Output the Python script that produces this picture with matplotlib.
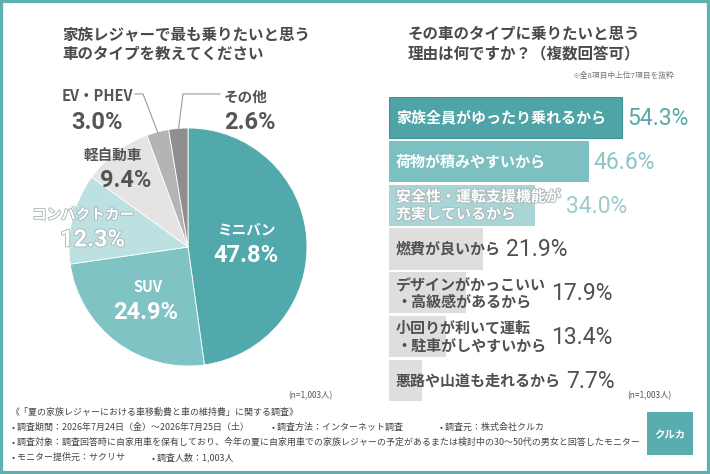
import matplotlib
matplotlib.use('Agg')
import numpy as np
import matplotlib.pyplot as plt
import matplotlib.patheffects as pe
from matplotlib.patches import Rectangle

plt.rcParams['font.family'] = ['Noto Sans CJK JP', 'DejaVu Sans']

# ---------------- data ----------------
car_types = ['ミニバン', 'SUV', 'コンパクトカー', '軽自動車', 'EV・PHEV', 'その他']
car_share = [47.8, 24.9, 12.3, 9.4, 3.0, 2.6]

reasons = ['家族全員がゆったり乗れるから',
           '荷物が積みやすいから',
           '安全性・運転支援機能が\n充実しているから',
           '燃費が良いから',
           'デザインがかっこいい\n・高級感があるから',
           '小回りが利いて運転\n・駐車がしやすいから',
           '悪路や山道も走れるから']
reason_pct = [54.3, 46.6, 34.0, 21.9, 17.9, 13.4, 7.7]

n_note = '(n=1,003人)'

# ---------------- figure ----------------
W, H = 710, 474
fig = plt.figure(figsize=(W / 100, H / 100), dpi=100)
fig.patch.set_facecolor('white')


def px_axes(x0, y0, x1, y1):
    # axes from pixel box (top-left origin)
    return fig.add_axes([x0 / W, 1 - y1 / H, (x1 - x0) / W, (y1 - y0) / H])


def px_text(x, y, s, **kw):
    return fig.text(x / W, 1 - y / H, s, **kw)


DARK = '#4a4a4a'
NUM_FONT = ['Roboto', 'DejaVu Sans']
# white text with a faint grey rim (used where white sits on pale fill)
rim = [pe.withStroke(linewidth=1.3, foreground='#a9b8b8')]

# titles
px_text(62, 44, '家族レジャーで最も乗りたいと思う\n車のタイプを教えてください',
        fontsize=11.2, fontweight='bold', color=DARK, va='center', linespacing=1.3)
px_text(408, 44, 'その車のタイプに乗りたいと思う\n理由は何ですか？（複数回答可）',
        fontsize=11.2, fontweight='bold', color=DARK, va='center', linespacing=1.3)
px_text(675, 76, '※全8項目中上位7項目を抜粋', fontsize=5.6, color='#777777',
        ha='right', va='center')

# ---------------- pie ----------------
pie_colors = ['#52a9ac', '#80c3c5', '#bde0e0', '#e4e4e4', '#b4b4b4', '#8f8f8f']
ax1 = px_axes(69, 128, 307, 366)
wedges, _ = ax1.pie(car_share, colors=pie_colors, startangle=90, counterclock=False,
                    radius=1, wedgeprops=dict(edgecolor='white', linewidth=0.6))
ax1.set_xlim(-1, 1)
ax1.set_ylim(-1, 1)
ax1.set_aspect('equal')

# label block centres (pie units) and name shift (pie units)
label_xy = [(0.49, 0.03), (-0.35, -0.45), (-0.82, 0.16),
            (-0.55, 0.66), (-0.765, 1.15), (0.51, 1.15)]
name_dx = [0.01, 0.01, -0.06, -0.08, 0.0, -0.03]
text_col = ['white', 'white', 'white', '#555555', '#555555', '#555555']

for i, (name, v) in enumerate(zip(car_types, car_share)):
    cx, cy = label_xy[i]
    fx = rim if i == 2 else None
    ax1.text(cx + name_dx[i], cy + 0.115, name, ha='center', va='center',
             fontsize=10.5, fontweight='bold', color=text_col[i], path_effects=fx)
    ax1.text(cx - name_dx[i] * 0.3, cy - 0.1, f'{v:.1f}%', ha='center', va='center',
             fontsize=17, fontweight='bold', color=text_col[i], family=NUM_FONT,
             path_effects=fx)

# leader lines for the two small slices
lead = {4: (-0.378, 1.286, -0.445), 5: (-0.042, 1.286, 0.269)}
for i, (ex, ey, endx) in lead.items():
    w = wedges[i]
    mid = np.deg2rad((w.theta1 + w.theta2) / 2)
    sx, sy = 0.99 * np.cos(mid), 0.99 * np.sin(mid)
    ax1.plot([sx, ex, endx], [sy, ey, ey], color='#9a9a9a', lw=0.8, clip_on=False)

px_text(310, 396, n_note, fontsize=6, color='#555555', ha='center', va='center')

# ---------------- bars ----------------
bar_colors = ['#4fa4a7', '#7dc0c2', '#a9d5d6'] + ['#dedede'] * 4
label_col = ['white', 'white', 'white'] + ['#505050'] * 4
value_col = ['#5aa7aa', '#8cc4c5', '#9dcbcc'] + ['#505050'] * 4

ax2 = px_axes(389, 97, 700, 401)
y = np.arange(len(reasons))
bars = ax2.barh(y, reason_pct, height=0.936, color=bar_colors)
bars[0].set_edgecolor('#3d9396')
bars[0].set_linewidth(0.8)
ax2.set_xlim(0, 311 / 4.29)
ax2.set_ylim(len(reasons) - 0.532, -0.468)
ax2.axis('off')

labels = []
for i, r in enumerate(reasons):
    t = ax2.annotate(r, (0, y[i]), xytext=(5.0, 0), textcoords='offset points',
                     ha='left', va='center', fontsize=10.8, fontweight='bold',
                     color=label_col[i], linespacing=1.12,
                     path_effects=rim if i == 2 else None)
    labels.append(t)

fig.canvas.draw()
rend = fig.canvas.get_renderer()
inv = ax2.transData.inverted()
for i, v in enumerate(reason_pct):
    bar_end = ax2.transData.transform((v, y[i]))[0]
    lab_end = labels[i].get_window_extent(rend).x1
    xpx = max(bar_end, lab_end) + 5
    xd = inv.transform((xpx, 0))[0]
    ax2.text(xd, y[i] + 0.02, f'{v:.1f}%', ha='left', va='center', fontsize=16.5,
             color=value_col[i], family=NUM_FONT, clip_on=False)

px_text(649, 396, n_note, fontsize=6, color='#555555', ha='center', va='center')

# ---------------- footer ----------------
foot = dict(fontsize=6.45, color='#444444', va='center')
px_text(10, 412, '《「夏の家族レジャーにおける車移動費と車の維持費」に関する調査》', **foot)
px_text(12, 427, '• 調査期間：2026年7月24日（金）～2026年7月25日（土）', **foot)
px_text(272, 427, '• 調査方法：インターネット調査', **foot)
px_text(440, 427, '• 調査元：株式会社クルカ', **foot)
px_text(12, 442, '• 調査対象：調査回答時に自家用車を保有しており、今年の夏に自家用車での'
        '家族レジャーの予定があるまたは検討中の30～50代の男女と回答したモニター', **foot)
px_text(12, 457, '• モニター提供元：サクリサ', **foot)
px_text(152, 457, '• 調査人数：1,003人', **foot)

# logo box
fig.patches.append(Rectangle((647 / W, 1 - 455 / H), 46 / W, 43 / H,
                             transform=fig.transFigure, facecolor='#5aadae',
                             edgecolor='none'))
px_text(670, 435, 'クルカ', fontsize=7.5, fontweight='bold', color='white',
        ha='center', va='center', style='italic')

# frame
fig.patches.append(Rectangle((0, 0), 1, 1, transform=fig.transFigure, fill=False,
                             edgecolor='#5fb0b1', linewidth=4.5))

fig.savefig('out.png', dpi=100, facecolor='white')
